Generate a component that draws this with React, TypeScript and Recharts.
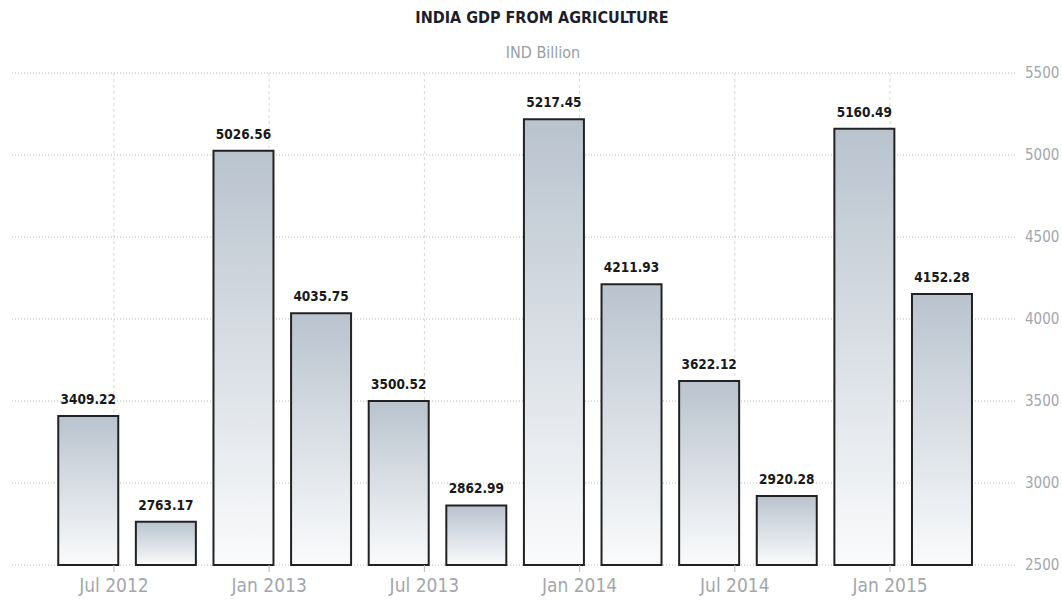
import { BarChart, Bar, XAxis, YAxis, CartesianGrid, LabelList } from 'recharts';

// bar positions in months from Jul 2012
const months = [-1, 2, 5, 8, 11, 14, 17, 20, 23, 26, 29, 32];
const gdp = [3409.22, 2763.17, 5026.56, 4035.75, 3500.52, 2862.99, 5217.45, 4211.93, 3622.12, 2920.28, 5160.49, 4152.28];
const tickMonths = [0, 6, 12, 18, 24, 30];
const tickLabels = ['Jul 2012', 'Jan 2013', 'Jul 2013', 'Jan 2014', 'Jul 2014', 'Jan 2015'];
const yTicks = [2500, 3000, 3500, 4000, 4500, 5000, 5500];
const xDomain: [number, number] = [-3.94, 34.83];

const data = months.map((m, i) => ({ m, value: gdp[i] }));

const font = '"DejaVu Sans Condensed", "DejaVu Sans", sans-serif';

// vertical grid only at the date ticks
const gridX = ({ offset }: any) =>
  tickMonths.map((t) => offset.left + (offset.width * (t - xDomain[0])) / (xDomain[1] - xDomain[0]));

export default function App() {
  return (
    <div style={{ position: 'absolute', left: 0, top: 0, width: 1062, height: 601, background: '#fff', fontFamily: font }}>
      <div style={{ position: 'absolute', top: 8, left: 11, width: 1062, textAlign: 'center', fontWeight: 'bold', fontSize: 16, color: '#1e1e2a' }}>
        INDIA GDP FROM AGRICULTURE
      </div>
      <div style={{ position: 'absolute', top: 43, left: 12, width: 1062, textAlign: 'center', fontSize: 16, color: '#9a9da3' }}>
        IND Billion
      </div>
      <BarChart width={1062} height={601} data={data} margin={{ top: 73, right: 0, bottom: 6, left: 12 }}>
        <defs>
          <linearGradient id="barGrad" x1="0" y1="0" x2="0" y2="1">
            <stop offset="0%" stopColor="#b9c3ce" />
            <stop offset="100%" stopColor="#fafbfc" />
          </linearGradient>
        </defs>
        <CartesianGrid horizontal={false} stroke="#d8d8d8" strokeDasharray="3 3" verticalCoordinatesGenerator={gridX} />
        <CartesianGrid vertical={false} stroke="#b8b8b8" strokeDasharray="1 2" />
        <XAxis
          dataKey="m"
          type="number"
          domain={xDomain}
          ticks={tickMonths}
          tickFormatter={(v: number) => tickLabels[tickMonths.indexOf(v)]}
          axisLine={false}
          tickLine={{ stroke: '#bbb' }}
          tickSize={7}
          tickMargin={7}
          height={30}
          tick={{ fill: '#a3a6ad', fontSize: 19, fontFamily: font }}
          allowDataOverflow
        />
        <YAxis
          orientation="right"
          domain={[2500, 5500]}
          ticks={yTicks}
          axisLine={false}
          tickLine={false}
          width={47}
          tickMargin={4}
          tick={{ fill: '#a3a6ad', fontSize: 15, fontFamily: font, textAnchor: 'start' }}
        />
        <Bar dataKey="value" barSize={60} fill="url(#barGrad)" stroke="#222" strokeWidth={2} isAnimationActive={false}>
          <LabelList
            dataKey="value"
            position="top"
            offset={12}
            formatter={(v: number) => v.toFixed(2)}
            style={{ fill: '#1a1a1a', fontSize: 13.5, fontWeight: 'bold', fontFamily: font }}
          />
        </Bar>
      </BarChart>
    </div>
  );
}
